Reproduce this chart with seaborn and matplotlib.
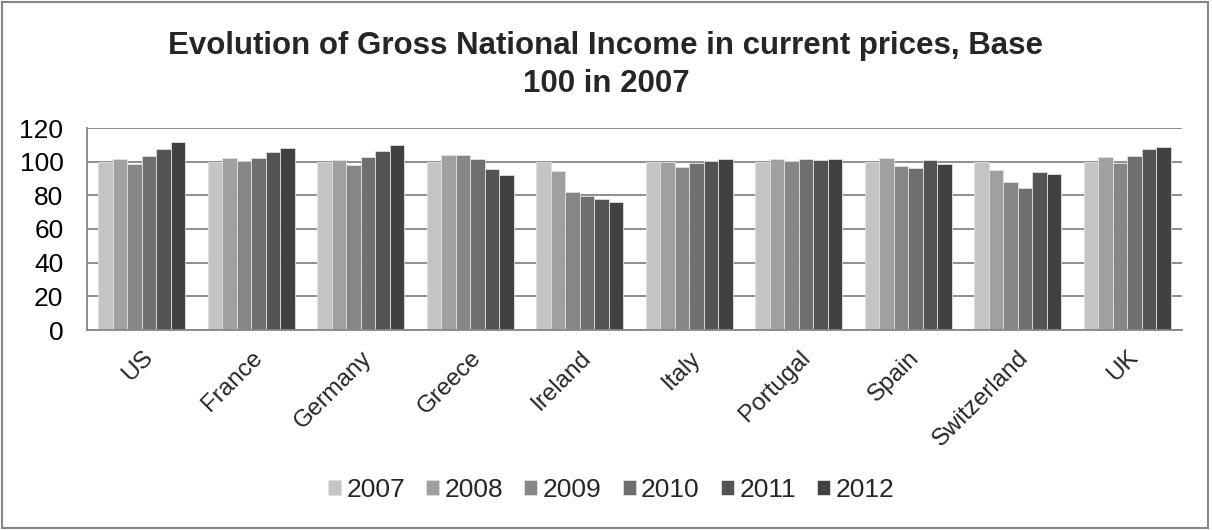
import matplotlib
matplotlib.use("Agg")
import matplotlib.pyplot as plt
import seaborn as sns
import pandas as pd
from matplotlib.patches import Rectangle

countries = ["US", "France", "Germany", "Greece", "Ireland", "Italy",
             "Portugal", "Spain", "Switzerland", "UK"]
years = ["2007", "2008", "2009", "2010", "2011", "2012"]

v2007 = [100, 100, 100, 100, 100, 100, 100, 100, 100, 100]
v2008 = [101.8, 102.0, 101.0, 103.8, 94.2, 100.0, 101.4, 102.2, 95.2, 102.6]
v2009 = [98.6, 100.4, 98.2, 104.1, 81.7, 97.0, 100.4, 97.6, 87.9, 99.0]
v2010 = [103.3, 102.4, 102.8, 101.8, 79.9, 99.2, 101.6, 96.2, 84.5, 103.2]
v2011 = [107.7, 105.5, 106.5, 95.8, 78.1, 100.6, 101.0, 100.8, 94.0, 107.3]
v2012 = [111.7, 108.3, 109.9, 91.8, 75.8, 101.4, 101.6, 98.6, 92.9, 108.5]

colors = ["#c4c4c4", "#a0a0a0", "#868686", "#6f6f6f", "#535353", "#414141"]

series = [v2007, v2008, v2009, v2010, v2011, v2012]
rows = []
for y, vals in zip(years, series):
    for c, v in zip(countries, vals):
        rows.append({"Country": c, "Year": y, "Value": v})
df = pd.DataFrame(rows)

sns.set_style("white")
plt.rcParams["font.family"] = ["Liberation Sans", "DejaVu Sans"]

fig = plt.figure(figsize=(12.12, 5.30), dpi=100)
ax = fig.add_axes([87 / 1212, 1 - 330 / 530, (1182 - 87) / 1212, (330 - 128) / 530])

sns.barplot(data=df, x="Country", y="Value", hue="Year", palette=colors,
            order=countries, hue_order=years, width=0.79, ax=ax,
            edgecolor="#e0e0e0", linewidth=0.6, errorbar=None, saturation=1)

ax.set_ylim(0, 120)
ax.set_xlim(-0.5, len(countries) - 0.5)
ax.set_yticks(range(0, 121, 20))
ax.yaxis.grid(True, color="#868686", linewidth=1.3)
ax.set_axisbelow(True)
ax.set_xlabel("")
ax.set_ylabel("")
for side in ["top", "right"]:
    ax.spines[side].set_visible(False)
for side in ["left", "bottom"]:
    ax.spines[side].set_color("#868686")
    ax.spines[side].set_linewidth(1.3)
ax.tick_params(axis="y", labelsize=19, pad=17, length=0, colors="black")
ax.tick_params(axis="x", labelsize=17.5, length=0, pad=12)
for lbl in ax.get_xticklabels():
    lbl.set_rotation(45)
    lbl.set_ha("right")
    lbl.set_va("top")
    lbl.set_rotation_mode("anchor")

handles, labels = ax.get_legend_handles_labels()
ax.legend_.remove()
fig.legend(handles, labels, loc="center", bbox_to_anchor=(611 / 1212, 1 - 490 / 530),
           ncol=6, frameon=False, fontsize=19, handlelength=0.5, handleheight=0.5,
           handletextpad=0.2, columnspacing=0.8)

fig.text(0.5, 1 - 46 / 530, "Evolution of Gross National Income in current prices, Base",
         ha="center", va="center", fontsize=22.5, fontweight="bold")
fig.text(0.5, 1 - 84 / 530, "100 in 2007", ha="center", va="center",
         fontsize=22.5, fontweight="bold")

fig.patches.append(Rectangle((0.002, 0.003), 0.995, 0.994, transform=fig.transFigure,
                             fill=False, edgecolor="#868686", linewidth=1.5))

fig.savefig("out.png", dpi=100, facecolor="white")
